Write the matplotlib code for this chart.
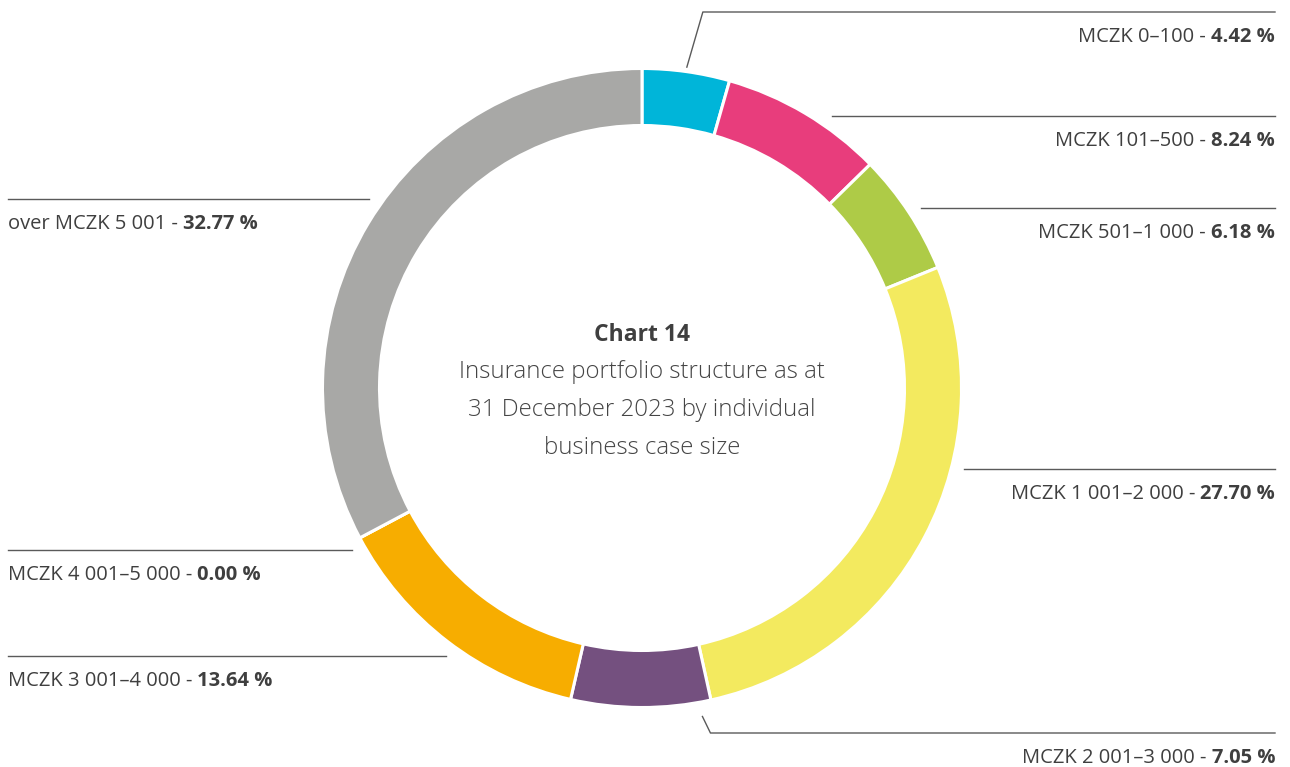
import numpy as np
import matplotlib.pyplot as plt

plt.rcParams['font.family'] = ['Open Sans', 'DejaVu Sans']

# Portfolio shares by business case size, clockwise from the top
categories = ['MCZK 0\u2013100', 'MCZK 101\u2013500', 'MCZK 501\u20131 000',
              'MCZK 1 001\u20132 000', 'MCZK 2 001\u20133 000', 'MCZK 3 001\u20134 000',
              'MCZK 4 001\u20135 000', 'over MCZK 5 001']
shares = [4.42, 8.24, 6.18, 27.70, 7.05, 13.64, 0.00, 32.77]
colors = ['#00b5d9', '#e83d7c', '#aecb47', '#f3ea5f', '#74507f', '#f7ad00', '#d9d9d9', '#a8a8a6']

title = 'Chart 14'
subtitle = ['Insurance portfolio structure as at',
            '31 December 2023 by individual',
            'business case size']

W, H = 1290, 767
CX, CY, R = 642, H - 388, 319.5
TXT = '#3f3f3f'
LINE = '#5a5a5a'

fig = plt.figure(figsize=(W / 100, H / 100), dpi=100)
ax = fig.add_axes([0, 0, 1, 1])

ax.pie(shares, colors=colors, startangle=90, counterclock=False,
       radius=R, center=(CX, CY), frame=True,
       wedgeprops=dict(width=57, edgecolor='white', linewidth=2.2))
ax.set_xlim(0, W)
ax.set_ylim(0, H)
ax.set_aspect('equal')
ax.axis('off')

# label layout: side, y of the rule (px from top), where the slanted leader
# leaves the wedge (fraction of its span) or None for a plain rule
layout = {
    'MCZK 0\u2013100': ('right', 12, 0.5),
    'MCZK 101\u2013500': ('right', 116, None),
    'MCZK 501\u20131 000': ('right', 208, None),
    'MCZK 1 001\u20132 000': ('right', 469, None),
    'MCZK 2 001\u20133 000': ('right', 733, 0.08),
    'MCZK 3 001\u20134 000': ('left', 656, None),
    'MCZK 4 001\u20135 000': ('left', 550, None),
    'over MCZK 5 001': ('left', 199, None),
}

renderer = fig.canvas.get_renderer()
fs = 14.5

# wedge boundaries in degrees, clockwise from 12 o'clock
cum = np.cumsum([0] + shares) / 100 * 360

for i, (cat, val) in enumerate(zip(categories, shares)):
    side, ly, frac = layout[cat]
    y = H - ly
    if frac is not None:
        ang = cum[i] + frac * (cum[i + 1] - cum[i])
        a = np.deg2rad(90 - ang)
        rr = 324 if y > CY else 334
        x0, y0 = CX + rr * np.cos(a), CY + rr * np.sin(a)
        x1 = x0 + (16 if y > CY else 8)
        ax.plot([x0, x1, 1275], [y0, y, y], color=LINE, lw=1.0)
    else:
        dx = np.sqrt(332 ** 2 - (y - CY) ** 2)
        if side == 'right':
            ax.plot([CX + dx, 1275], [y, y], color=LINE, lw=1.0)
        else:
            ax.plot([8, CX - dx], [y, y], color=LINE, lw=1.0)

    ty = y - 30
    value = f'{val:.2f} %'
    if side == 'right':
        t = ax.text(1275, ty, value, ha='right', va='baseline', fontsize=fs,
                    fontweight='bold', color=TXT)
        bb = t.get_window_extent(renderer)
        ax.text(bb.x0, ty, cat + ' - ', ha='right', va='baseline', fontsize=fs,
                color=TXT)
    else:
        t = ax.text(8, ty, cat + ' -', ha='left', va='baseline', fontsize=fs,
                    color=TXT)
        bb = t.get_window_extent(renderer)
        ax.text(bb.x1 + 5, ty, value, ha='left', va='baseline', fontsize=fs,
                fontweight='bold', color=TXT)

# centre title
ax.text(CX, H - 341, title, ha='center', va='baseline', fontsize=16.5,
        fontweight='bold', color=TXT)
for i, line in enumerate(subtitle):
    ax.text(CX, H - 378.5 - i * 37.5, line, ha='center', va='baseline',
            fontsize=17.3, fontweight='light', color='#454545')

fig.savefig('out.png', dpi=100, facecolor='white')
